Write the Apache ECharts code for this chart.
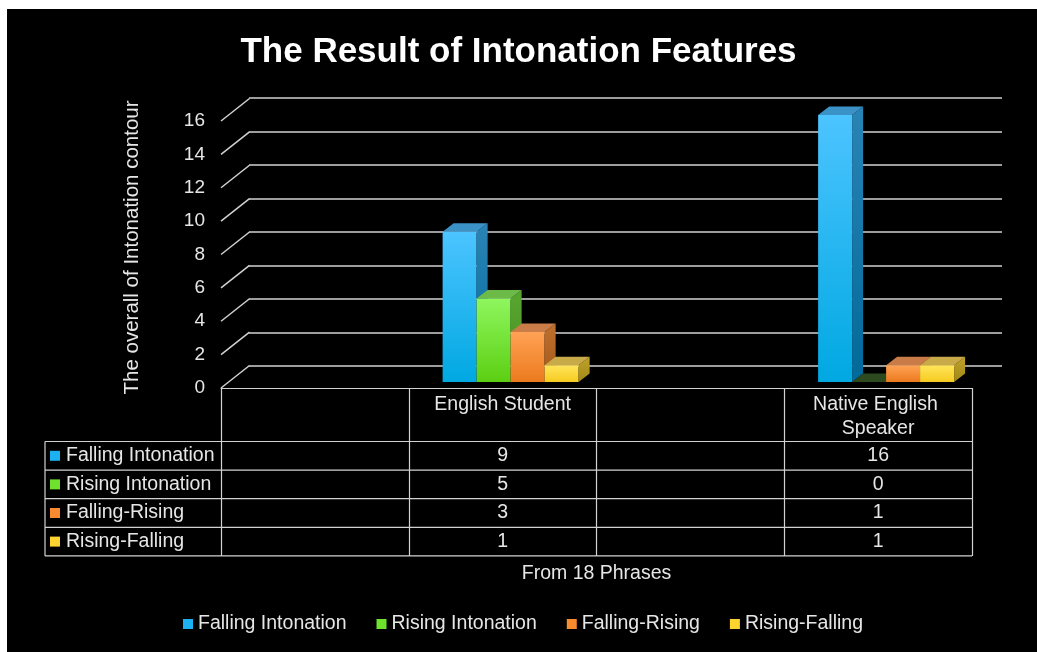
<!DOCTYPE html>
<html>
<head>
<meta charset="utf-8">
<script src="https://cdn.jsdelivr.net/npm/echarts@6.0.0/dist/echarts.min.js"></script>
<style>
	html, body { margin: 0; padding: 0; background: #fff; }
	#bg { position: absolute; left: 7px; top: 9px; width: 1030px; height: 643px; background: #000; }
	#main { position: absolute; left: 0; top: 0; width: 1037px; height: 652px; }
</style>
</head>
<body>
<div id="bg"></div>
<div id="main"></div>
<script>
// chart data
const categories = ['', 'English Student', '', 'Native English Speaker']
const groups = ['English Student', 'Native English Speaker']
const seriesNames = ['Falling Intonation', 'Rising Intonation', 'Falling-Rising', 'Rising-Falling']
const fallingIntonation = [9, 16]
const risingIntonation = [5, 0]
const fallingRising = [3, 1]
const risingFalling = [1, 1]
const yTicks = [0, 2, 4, 6, 8, 10, 12, 14, 16]

const values = [fallingIntonation, risingIntonation, fallingRising, risingFalling]

// look
const font = 'Liberation Sans, Arial, sans-serif'
const textColor = '#e6e6e6'
const gridColor = '#d2d2d2'
const palette = [
	{ flat: '#1cb2f2', front: ['#4cc4ff', '#00a8e2'], side: ['#2a84b6', '#006a9a'], top: '#3a92c6', zero: '#1d5a78' },
	{ flat: '#6ee22c', front: ['#8ef65e', '#5ccf12'], side: ['#5aa632', '#46901c'], top: '#6cba48', zero: '#2c4a1e' },
	{ flat: '#fa8a30', front: ['#ffa254', '#ec7a1e'], side: ['#c0702e', '#a0581a'], top: '#c97c48', zero: '#6a3e1c' },
	{ flat: '#fdd330', front: ['#ffe45a', '#f6cb20'], side: ['#c0a22a', '#a08816'], top: '#c8aa48', zero: '#6a5a1c' },
]
const barW = 34
const shift = [8, -6]      // bars sit a little behind the front plane
const depth = [11, -8.5]   // bar thickness
const wall = [28.5, -22.5] // front plane -> back wall

const chart = echarts.init(document.getElementById('main'))

function barRenderer(slot) {
	const c = palette[slot]
	return function (params, api) {
		const cat = api.value(0)
		const val = api.value(1)
		const base = api.coord([cat, 0])
		const top = api.coord([cat, val])
		const x0 = base[0] - (barW * values.length) / 2 + slot * barW + shift[0]
		const yb = base[1] + shift[1]
		const yt = top[1] + shift[1]
		const x1 = x0 + barW
		const grad = (cols) => new echarts.graphic.LinearGradient(0, 0, 0, 1, [
			{ offset: 0, color: cols[0] }, { offset: 1, color: cols[1] }])
		const children = []
		if (yb - yt > 0.5) {
			children.push({ type: 'rect', shape: { x: x0, y: yt, width: barW, height: yb - yt }, style: { fill: grad(c.front) } })
			children.push({ type: 'polygon', shape: { points: [[x1, yt], [x1 + depth[0], yt + depth[1]], [x1 + depth[0], yb + depth[1]], [x1, yb]] }, style: { fill: grad(c.side) } })
		}
		children.push({ type: 'polygon', shape: { points: [[x0, yt], [x0 + depth[0], yt + depth[1]], [x1 + depth[0], yt + depth[1]], [x1, yt]] }, style: { fill: yb - yt > 0.5 ? c.top : c.zero } })
		return { type: 'group', children }
	}
}

const barSeries = seriesNames.map((name, i) => ({
	name,
	type: 'custom',
	xAxisIndex: 1,
	yAxisIndex: 1,
	itemStyle: { color: palette[i].flat },
	encode: { x: 0, y: 1 },
	data: groups.map((g, j) => [categories.indexOf(g), values[i][j]]),
	renderItem: barRenderer(i),
}))

const option = {
	backgroundColor: 'transparent',
	textStyle: { fontFamily: font },
	title: {
		text: 'The Result of Intonation Features',
		left: 'center',
		top: 30,
		textStyle: { color: '#fff', fontSize: 35, fontWeight: 'bold', fontFamily: font },
	},
	legend: {
		left: 178,
		top: 609,
		icon: 'rect',
		itemWidth: 10,
		itemHeight: 10,
		itemGap: 30,
		textStyle: { color: textColor, fontSize: 19.5, fontFamily: font },
		data: seriesNames,
	},
	grid: [
		{ left: 249, right: 35, top: 98, bottom: 286 },
		{ left: 221, right: 65, top: 121, bottom: 264 },
	],
	xAxis: [
		{ gridIndex: 0, type: 'category', data: categories, show: false },
		{
			gridIndex: 1,
			type: 'category',
			data: categories,
			axisLine: { lineStyle: { color: gridColor, width: 1.2 } },
			axisTick: { show: true, interval: 0, length: 168, lineStyle: { color: gridColor, width: 1.2 } },
			axisLabel: {
				interval: 0, margin: 5, color: textColor, fontSize: 19.5, lineHeight: 24,
				width: 160, overflow: 'break', fontFamily: font,
			},
			name: 'From 18 Phrases',
			nameLocation: 'middle',
			nameGap: 176,
			nameTextStyle: { color: textColor, fontSize: 19.5, fontFamily: font },
		},
	],
	yAxis: [
		{
			gridIndex: 0, type: 'value', min: 0, max: 16, interval: 2,
			axisLine: { show: false }, axisTick: { show: false }, axisLabel: { show: false },
			splitLine: { lineStyle: { color: gridColor, width: 1.5 } },
		},
		{
			gridIndex: 1, type: 'value', min: 0, max: 16, interval: 2,
			axisLine: { show: false }, axisTick: { show: false }, splitLine: { show: false },
			axisLabel: { margin: 16, color: textColor, fontSize: 19, fontFamily: font },
			name: 'The overall of Intonation contour',
			nameLocation: 'middle',
			nameGap: 78,
			nameTextStyle: { color: textColor, fontSize: 20.5, fontFamily: font, padding: [0, 0, 0, 14] },
		},
	],
	series: [
		{
			// slanted floor/wall edges on the left side
			type: 'custom',
			xAxisIndex: 1,
			yAxisIndex: 1,
			silent: true,
			encode: { x: 0, y: 1 },
			data: yTicks.map(v => [0, v]),
			renderItem: (params, api) => {
				const y = api.coord([0, api.value(1)])[1]
				const x = params.coordSys.x
				return {
					type: 'line',
					shape: { x1: x, y1: y, x2: x + wall[0], y2: y + wall[1] },
					style: { stroke: gridColor, lineWidth: 1.5 },
				}
			},
		},
		...barSeries,
	],
}

chart.setOption(option)

// data table rows under the axis
const tableLeft = 45
const tableRight = 972
const rowTop = 441.5
const rowH = 28.6
const graphic = []
for (let r = 0; r <= seriesNames.length; r++) {
	const y = rowTop + r * rowH
	graphic.push({ type: 'line', shape: { x1: tableLeft, y1: y, x2: tableRight, y2: y }, style: { stroke: gridColor, lineWidth: 1.2 } })
}
graphic.push({ type: 'line', shape: { x1: tableLeft, y1: rowTop, x2: tableLeft, y2: rowTop + seriesNames.length * rowH }, style: { stroke: gridColor, lineWidth: 1.2 } })
seriesNames.forEach((name, i) => {
	const cy = rowTop + (i + 0.5) * rowH
	graphic.push({ type: 'rect', shape: { x: 50, y: cy - 5, width: 10, height: 10 }, style: { fill: palette[i].flat } })
	graphic.push({ type: 'text', x: 66, y: cy, style: { text: name, fill: textColor, font: `19.5px ${font}`, verticalAlign: 'middle' } })
	groups.forEach((g, j) => {
		const cx = chart.convertToPixel({ xAxisIndex: 1 }, categories.indexOf(g))
		graphic.push({ type: 'text', x: cx, y: cy, style: { text: String(values[i][j]), fill: textColor, font: `19.5px ${font}`, align: 'center', verticalAlign: 'middle' } })
	})
})
chart.setOption({ graphic })
</script>
</body>
</html>
